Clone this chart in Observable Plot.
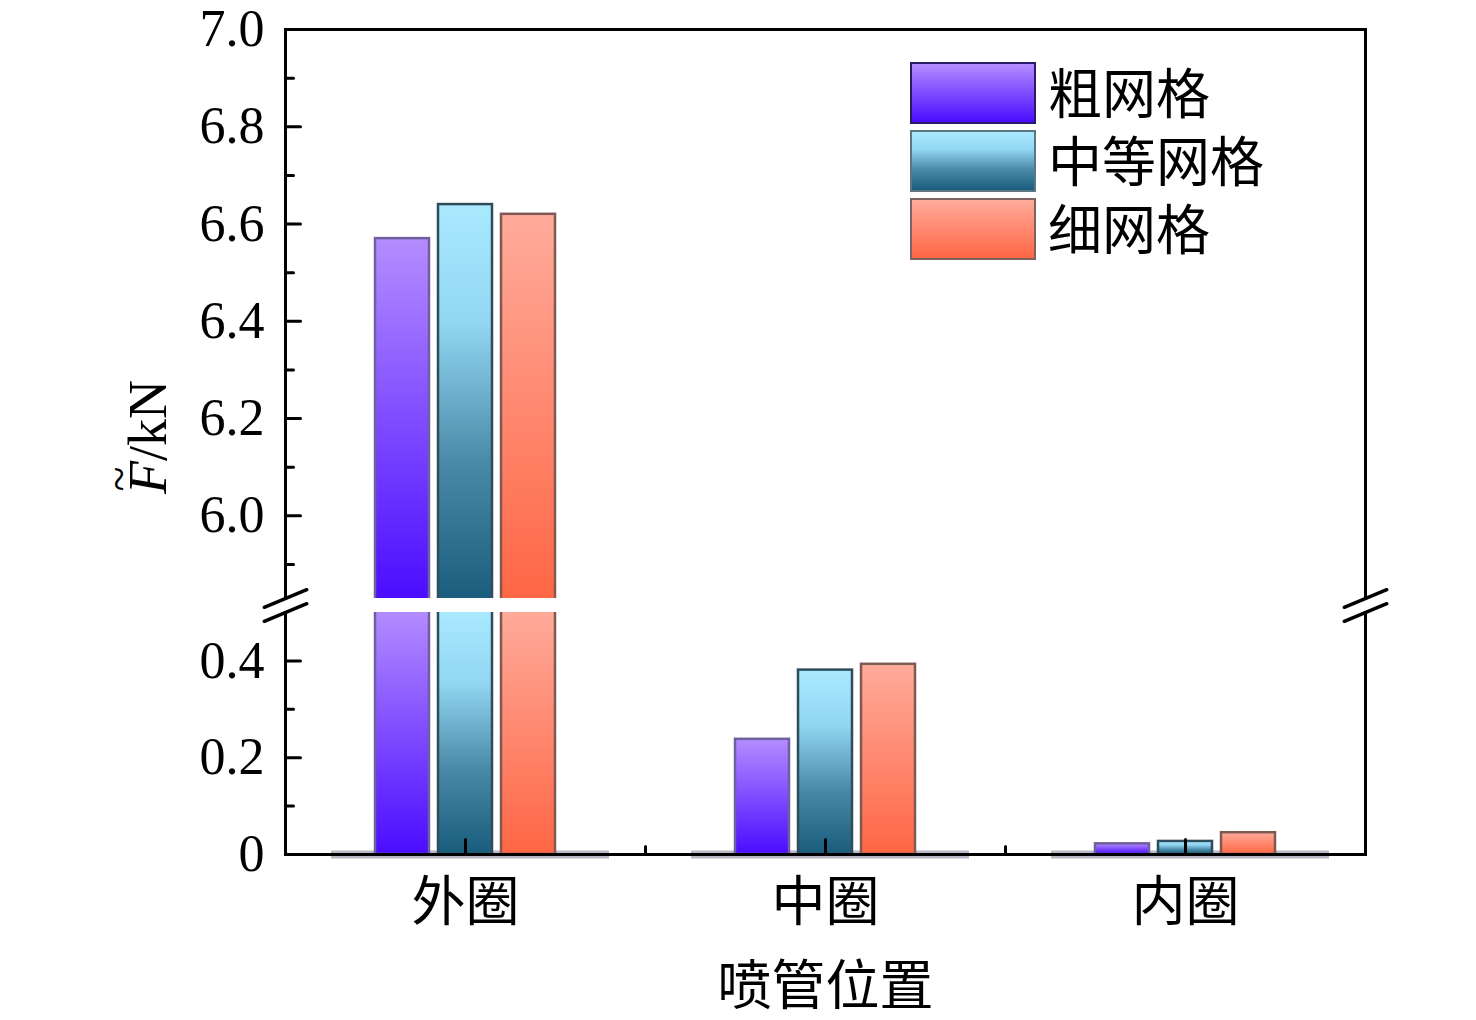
<!DOCTYPE html>
<html>
<head>
<meta charset="utf-8">
<script src="https://cdn.jsdelivr.net/npm/d3@7"></script>
<script src="https://cdn.jsdelivr.net/npm/@observablehq/plot@0.6"></script>
<style>
  body { margin: 0; background: #fff; }
  #wrap { position: relative; width: 1476px; height: 1020px; overflow: hidden; background: #fff; }
  #upper, #lower { position: absolute; left: 0; }
  #upper { top: 0; }
  #lower { top: 600px; }
  .sw { position: absolute; left: 910px; width: 122px; height: 58px; border: 2px solid #444; }
  .lb { position: absolute; left: 1048px; font-family: "Noto Sans CJK SC", sans-serif; font-size: 54px; line-height: 62px; height: 62px; white-space: nowrap; color: #000; }
</style>
</head>
<body>
<svg width="0" height="0" style="position:absolute"><defs id="gdefs"></defs></svg>
<div id="wrap">
  <div id="upper"></div>
  <div id="lower"></div>
  <div id="legend"></div>
</div>
<script>
// ---------------- data ----------------
const categories = ["外圈", "中圈", "内圈"];
const series = ["粗网格", "中等网格", "细网格"];
const coarse = [6.57, 0.238, 0.022];
const medium = [6.64, 0.381, 0.027];
const fine   = [6.62, 0.393, 0.045];

const upperDomain = [5.83, 7.0];
const lowerDomain = [0, 0.5];
const upperTicks = [6.0, 6.2, 6.4, 6.6, 6.8, 7.0];
const upperMinor = [5.9, 6.1, 6.3, 6.5, 6.7, 6.9];
const lowerTicks = [0, 0.2, 0.4];
const lowerMinor = [0.1, 0.3];
const xTitle = "喷管位置";

// ---------------- styles ----------------
const gradIds = ["gCoarse", "gMedium", "gFine"];
const gradStops = [
  [[0, "#b48dff"], [1, "#4a0cff"]],
  [[0, "#aaeaff"], [0.3, "#92d6f2"], [0.65, "#4a8aa8"], [1, "#1a5c7c"]],
  [[0, "#ffab9b"], [1, "#ff6644"]]
];
const barStrokes = ["#6f5f9c", "#2e4c5c", "#7e5a52"];
const legendBorders = ["#2a1a6a", "#5e7680", "#7e6262"];

// gradients
const defs = d3.select("#gdefs");
gradIds.forEach((id, i) => {
  const g = defs.append("linearGradient").attr("id", id)
    .attr("x1", 0).attr("y1", 0).attr("x2", 0).attr("y2", 1);
  gradStops[i].forEach(([o, c]) => g.append("stop").attr("offset", o).attr("stop-color", c));
});

const valuesBySeries = [coarse, medium, fine];
const rows = categories.flatMap((c, i) =>
  series.map((s, j) => ({cat: c, series: s, value: valuesBySeries[j][i], j}))
);
const catRows = categories.map(c => ({c}));
const fillOf = d => `url(#${gradIds[d.j]})`;
const strokeOf = d => barStrokes[d.j];

const common = {
  width: 1476,
  marginLeft: 284,
  marginRight: 110,
  fx: {domain: categories, padding: 0, axis: null},
  x: {domain: series, paddingInner: 0.147, paddingOuter: 1.42, axis: null},
  color: {type: "identity"},
  style: {background: "transparent", overflow: "visible"}
};
const serif = "Liberation Serif, Times New Roman, serif";
const cjk = "Noto Sans CJK SC, sans-serif";
const breakLen = 46, breakRot = 67.5;
// plain line shape for tick / break vectors (no arrow head)
const lineShape = {draw(context, l) { context.moveTo(0, 0); context.lineTo(0, -l); }};
const tick = (opts) => ({shape: lineShape, anchor: "start", strokeWidth: 3, ...opts});

// ---------------- upper panel ----------------
const upper = Plot.plot({
  ...common,
  height: 610,
  marginTop: 29,
  marginBottom: 12,
  y: {domain: upperDomain, axis: null},
  marks: [
    Plot.barY(rows.filter(d => d.value > upperDomain[0]), {
      fx: "cat", x: "series",
      y1: upperDomain[0] - 0.006, y2: "value",
      fill: fillOf, stroke: strokeOf, strokeWidth: 2.5, clip: true
    }),
    Plot.ruleY(catRows, {fx: "c", y: upperDomain[1], strokeWidth: 3}),
    Plot.frame({anchor: "left", facetAnchor: "left", strokeWidth: 3}),
    Plot.frame({anchor: "right", facetAnchor: "right", strokeWidth: 3}),
    Plot.vector(upperTicks, tick({y: d => d, frameAnchor: "left", facetAnchor: "left", rotate: 90, length: 15})),
    Plot.vector(upperMinor, tick({y: d => d, frameAnchor: "left", facetAnchor: "left", rotate: 90, length: 8})),
    Plot.axisY({ticks: upperTicks, tickSize: 0, tickPadding: 21, tickFormat: d3.format(".1f"), fontSize: 52, fontFamily: serif, fill: "#000", label: null}),
    Plot.vector([0], tick({frameAnchor: "bottom-left", facetAnchor: "left", rotate: breakRot, length: breakLen, anchor: "middle", strokeWidth: 3.5})),
    Plot.vector([0], tick({frameAnchor: "bottom-right", facetAnchor: "right", rotate: breakRot, length: breakLen, anchor: "middle", strokeWidth: 3.5}))
  ]
});
document.getElementById("upper").appendChild(upper);

// y-axis title  F̃/kN  (rotated)
{
  const svg = d3.select(upper);
  const t = svg.append("text")
    .attr("transform", "translate(166,437) rotate(-90)")
    .attr("text-anchor", "middle")
    .attr("font-family", serif)
    .attr("font-size", 54)
    .attr("fill", "#000");
  t.append("tspan").attr("font-style", "italic").text("F");
  t.append("tspan").text("/kN");
  svg.append("text")
    .attr("transform", "translate(134,479) rotate(-90)")
    .attr("text-anchor", "middle")
    .attr("font-family", serif)
    .attr("font-size", 46)
    .attr("fill", "#000")
    .text("~");
}

// ---------------- lower panel ----------------
const lower = Plot.plot({
  ...common,
  height: 420,
  marginTop: 12,
  marginBottom: 166,
  y: {domain: lowerDomain, axis: null},
  marks: [
    Plot.ruleY([0], {insetLeft: 46, insetRight: 36, stroke: "#6d6d8c", strokeWidth: 8, strokeOpacity: 0.5}),
    Plot.barY(rows, {
      fx: "cat", x: "series",
      y1: 0, y2: d => Math.min(d.value, lowerDomain[1] * 1.012),
      fill: fillOf, stroke: strokeOf, strokeWidth: 2.5, clip: true
    }),
    Plot.ruleY([0], {strokeWidth: 3}),
    Plot.frame({anchor: "left", facetAnchor: "left", strokeWidth: 3}),
    Plot.frame({anchor: "right", facetAnchor: "right", strokeWidth: 3}),
    Plot.vector(lowerTicks, tick({y: d => d, frameAnchor: "left", facetAnchor: "left", rotate: 90, length: 15})),
    Plot.vector(lowerMinor, tick({y: d => d, frameAnchor: "left", facetAnchor: "left", rotate: 90, length: 8})),
    Plot.axisY({ticks: lowerTicks, tickSize: 0, tickPadding: 21, tickFormat: d => d === 0 ? "0" : d3.format(".1f")(d), fontSize: 52, fontFamily: serif, fill: "#000", label: null}),
    Plot.vector([0], tick({frameAnchor: "bottom", length: 15})),
    Plot.vector(catRows.slice(0, -1), tick({fx: "c", frameAnchor: "bottom-right", length: 8})),
    Plot.vector([0], tick({frameAnchor: "top-left", facetAnchor: "left", rotate: breakRot, length: breakLen, anchor: "middle", strokeWidth: 3.5})),
    Plot.vector([0], tick({frameAnchor: "top-right", facetAnchor: "right", rotate: breakRot, length: breakLen, anchor: "middle", strokeWidth: 3.5})),
    Plot.axisFx({anchor: "bottom", tickSize: 0, tickPadding: 28, fontSize: 54, fontFamily: cjk, fill: "#000",
      label: xTitle, labelAnchor: "center", labelOffset: 150})
  ]
});
document.getElementById("lower").appendChild(lower);

// ---------------- legend ----------------
{
  const leg = d3.select("#legend");
  const tops = [62, 130, 198];
  series.forEach((s, i) => {
    const css = "linear-gradient(to bottom, " + gradStops[i].map(([o, c]) => `${c} ${o * 100}%`).join(", ") + ")";
    leg.append("div").attr("class", "sw")
      .style("top", tops[i] + "px")
      .style("background", css)
      .style("border-color", legendBorders[i]);
    leg.append("div").attr("class", "lb")
      .style("top", (tops[i] - 2) + "px")
      .text(s);
  });
}
</script>
</body>
</html>
